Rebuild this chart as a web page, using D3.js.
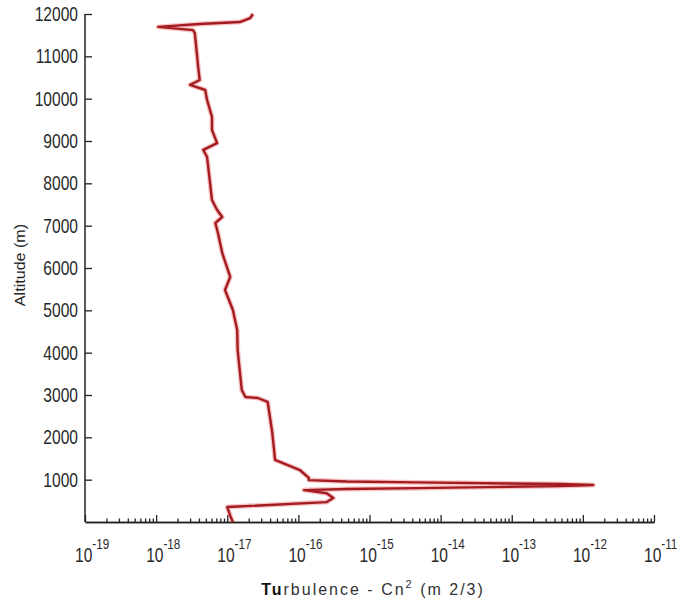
<!DOCTYPE html>
<html>
<head>
<meta charset="utf-8">
<script src="https://cdn.jsdelivr.net/npm/d3@7"></script>
<style>
  body { margin: 0; background: #fff; }
  svg { display: block; }
  .tick line, .domain { stroke: #222; }
</style>
</head>
<body>
<div id="viz"></div>
<script>
// altitude (m) and Cn2, bottom to top (path order)
var altitude = [0, 150, 354, 470, 567, 680, 754, 780, 800, 825, 850, 875, 898, 915, 935, 955, 990,
  1040, 1228, 1465, 2103, 2835, 2929, 2953, 3118, 4063, 4536, 5008, 5481, 5788, 6355, 6827,
  7063, 7205, 7370, 7607, 8623, 8790, 8950, 9260, 9570, 9970, 10205, 10325, 10440, 10750,
  11550, 11620, 11695, 11765, 11810, 11905, 12000];
var cn2 = [1.2e-17, 1.1e-17, 1.0e-17, 2.5e-16, 3.1e-16, 2.5e-16, 1.2e-16, 4.8e-16, 4.7e-15, 4.5e-14, 4.8e-13, 1.4e-12, 4.8e-13, 4.5e-14, 4.7e-15, 4.8e-16, 1.4e-16,
  1.4e-16, 1.05e-16, 4.7e-17, 4.3e-17, 3.7e-17, 2.7e-17, 1.8e-17, 1.6e-17, 1.4e-17, 1.38e-17, 1.2e-17, 9.3e-18, 1.1e-17, 8.5e-18, 7.4e-18,
  6.8e-18, 8.5e-18, 7.2e-18, 6.1e-18, 5.2e-18, 4.6e-18, 7.2e-18, 6.1e-18, 6.1e-18, 5.2e-18, 4.9e-18, 3.0e-18, 4.1e-18, 3.9e-18,
  3.5e-18, 3.3e-18, 1.07e-18, 4.1e-18, 1.5e-17, 2.1e-17, 2.3e-17];

var altTicks = [1000, 2000, 3000, 4000, 5000, 6000, 7000, 8000, 9000, 10000, 11000, 12000];
var expTicks = [-19, -18, -17, -16, -15, -14, -13, -12, -11];

var W = 678, H = 604,
    plotL = 85, plotR = 654, plotT = 14, plotB = 522,
    squeeze = 0.78;

var x = d3.scaleLog().domain([1e-19, 1e-11]).range([plotL, plotR]);
var y = d3.scaleLinear().domain([0, 12000]).range([plotB, plotT]);

var svg = d3.select('#viz').append('svg')
  .attr('width', W).attr('height', H);

var font = '"Liberation Sans", Arial, sans-serif';

// y axis, ticks pointing inward
var yAxis = d3.axisLeft(y).tickValues(altTicks).tickSizeInner(-7).tickSizeOuter(0).tickPadding(7)
  .tickFormat(d3.format('d'));
var yg = svg.append('g').attr('transform', 'translate(' + plotL + ',0)').call(yAxis);
yg.select('.domain').attr('d', 'M0,' + plotB + 'V' + plotT).style('stroke-width', 1.5);
yg.selectAll('.tick line').style('stroke-width', 1.3);
yg.selectAll('text')
  .attr('x', -7 / squeeze)
  .attr('transform', 'scale(' + squeeze + ',1)')
  .style('font-family', font).style('font-size', '20px').style('fill', '#2a2a2a');

// x axis: minor ticks then majors
var majors = expTicks.map(function(e) { return Math.pow(10, e); });
var minors = [];
for (var e = -19; e < -11; e++) {
  for (var m = 2; m <= 9; m++) minors.push(m * Math.pow(10, e));
}
var xMinor = d3.axisBottom(x).tickValues(minors).tickSizeInner(-3.5).tickSizeOuter(0).tickFormat('');
var xMajor = d3.axisBottom(x).tickValues(majors).tickSizeInner(-7).tickSizeOuter(0).tickFormat('');
var xg = svg.append('g').attr('transform', 'translate(0,' + plotB + ')');
xg.append('g').call(xMinor);
xg.append('g').call(xMajor);
xg.selectAll('.domain').style('stroke-width', 1.5);
xg.selectAll('.tick line').style('stroke-width', 1.3);

var xl = svg.append('g').selectAll('g').data(expTicks).enter().append('g')
  .attr('transform', function(d) { return 'translate(' + (x(Math.pow(10, d)) - 10) + ',562) scale(' + squeeze + ',1)'; })
  .append('text')
  .style('font-family', font).style('font-size', '20px').style('fill', '#2a2a2a');
xl.append('tspan').text('10');
xl.append('tspan').attr('dy', -13).style('font-size', '15px').text(function(d) { return d; });

// profile line
var line = d3.line()
  .x(function(d, i) { return x(cn2[i]); })
  .y(function(d) { return y(d); });

svg.append('path').datum(altitude)
  .attr('d', line)
  .attr('fill', 'none')
  .attr('stroke', '#e8585a')
  .attr('stroke-opacity', 0.35)
  .attr('stroke-width', 5)
  .attr('stroke-linejoin', 'round');

svg.append('path').datum(altitude)
  .attr('d', line)
  .attr('fill', 'none')
  .attr('stroke', '#a31c22')
  .attr('stroke-width', 2.4)
  .attr('stroke-linejoin', 'round');

// axis titles
svg.append('text')
  .attr('transform', 'translate(25,265) rotate(-90) scale(1.15,1)')
  .attr('text-anchor', 'middle')
  .style('font-family', font).style('font-size', '14px').style('fill', '#222')
  .text('Altitude (m)');

var xt = svg.append('text')
  .attr('x', 373).attr('y', 595)
  .attr('text-anchor', 'middle')
  .style('font-family', font).style('font-size', '16px').style('fill', '#333')
  .style('letter-spacing', '2px');
xt.append('tspan').style('font-weight', 'bold').style('fill', '#111').text('Tu');
xt.append('tspan').text('rbulence - Cn');
xt.append('tspan').attr('dy', -7).style('font-size', '11px').text('2');
xt.append('tspan').attr('dy', 7).text(' (m 2/3)');
</script>
</body>
</html>
